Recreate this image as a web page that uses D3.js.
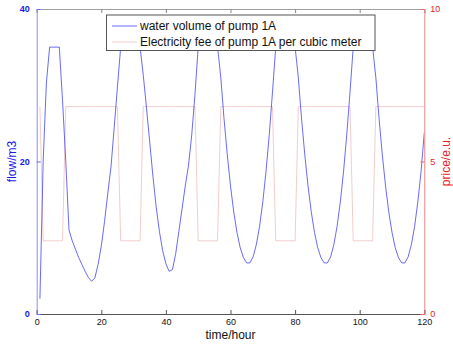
<!DOCTYPE html>
<html><head><meta charset="utf-8">
<script src="https://cdn.jsdelivr.net/npm/d3@7"></script>
<style>body{margin:0;background:#fff}svg{display:block;font-family:Arial,"Liberation Sans",Helvetica,sans-serif}</style>
</head><body><svg id="c" width="453" height="345"></svg>
<script>
// hours 1..120
const hours = d3.range(1, 121);
// water volume of pump 1A (m3), one value per hour
const flow = [
  2.0, 20.0, 30.3, 35, 35, 35, 35, 28.0, 20.0, 11.0,
  9.6, 8.5, 7.4, 6.5, 5.6, 4.8, 4.3, 4.7, 6.5, 8.9,
  12.1, 15.8, 19.3, 24.5, 29.8, 35, 35, 35, 35, 35,
  35, 35, 31.3, 27.0, 22.5, 18.0, 14.0, 10.8, 8.3, 6.6,
  5.6, 5.8, 7.8, 10.8, 13.8, 16.8, 19.5, 23.5, 28.8, 35,
  35, 35, 35, 35, 35, 35, 31.0, 25.6, 20.9, 16.8,
  13.4, 10.7, 8.7, 7.4, 6.7, 6.7, 7.5, 9.1, 11.5, 14.7,
  18.7, 23.5, 29.1, 35, 35, 35, 35, 35, 35, 35,
  31.0, 25.6, 20.9, 16.8, 13.4, 10.7, 8.7, 7.4, 6.7, 6.7,
  7.5, 9.1, 11.5, 14.7, 18.7, 23.5, 29.1, 35, 35, 35,
  35, 35, 35, 35, 31.0, 25.6, 20.9, 16.8, 13.4, 10.7,
  8.7, 7.4, 6.7, 6.7, 7.5, 9.1, 11.5, 14.7, 18.7, 23.8
];
// electricity fee of pump 1A per cubic meter (e.u.), one value per hour
const price = [
  6.8, 2.4, 2.4, 2.4, 2.4, 2.4, 2.4, 2.4, 6.8, 6.8,
  6.8, 6.8, 6.8, 6.8, 6.8, 6.8, 6.8, 6.8, 6.8, 6.8,
  6.8, 6.8, 6.8, 6.8, 6.8, 2.4, 2.4, 2.4, 2.4, 2.4,
  2.4, 2.4, 6.8, 6.8, 6.8, 6.8, 6.8, 6.8, 6.8, 6.8,
  6.8, 6.8, 6.8, 6.8, 6.8, 6.8, 6.8, 6.8, 6.8, 2.4,
  2.4, 2.4, 2.4, 2.4, 2.4, 2.4, 6.8, 6.8, 6.8, 6.8,
  6.8, 6.8, 6.8, 6.8, 6.8, 6.8, 6.8, 6.8, 6.8, 6.8,
  6.8, 6.8, 6.8, 2.4, 2.4, 2.4, 2.4, 2.4, 2.4, 2.4,
  6.8, 6.8, 6.8, 6.8, 6.8, 6.8, 6.8, 6.8, 6.8, 6.8,
  6.8, 6.8, 6.8, 6.8, 6.8, 6.8, 6.8, 2.4, 2.4, 2.4,
  2.4, 2.4, 2.4, 2.4, 6.8, 6.8, 6.8, 6.8, 6.8, 6.8,
  6.8, 6.8, 6.8, 6.8, 6.8, 6.8, 6.8, 6.8, 6.8, 6.8
];
const xTicks = [0, 20, 40, 60, 80, 100, 120];
const yLeftTicks = [0, 20, 40];
const yRightTicks = [0, 5, 10];
const legendLabels = ["water volume of pump 1A", "Electricity fee of pump 1A per cubic meter"];
const xLabel = "time/hour", yLeftLabel = "flow/m3", yRightLabel = "price/e.u.";

const svg = d3.select("#c");
const L = 36.7, R = 424.3, T = 9, B = 314;
const x = d3.scaleLinear().domain([0, 120]).range([L, R]);
const yL = d3.scaleLinear().domain([0, 40]).range([B, T]);
const yR = d3.scaleLinear().domain([0, 10]).range([B, T]);
const blue = "#2a2af0", red = "#e8383a", pink = "#f0c6c6";

svg.append("defs").append("clipPath").attr("id", "clip")
  .append("rect").attr("x", L).attr("y", T).attr("width", R - L).attr("height", B - T);

// price line
const lineP = d3.line().x((d, i) => x(hours[i])).y(d => yR(d));
svg.append("path").datum(price).attr("d", lineP).attr("fill", "none")
  .attr("stroke", pink).attr("stroke-width", 0.9).attr("clip-path", "url(#clip)");
// flow line
const lineF = d3.line().x((d, i) => x(hours[i])).y(d => yL(d));
svg.append("path").datum(flow).attr("d", lineF).attr("fill", "none")
  .attr("stroke", blue).attr("stroke-width", 0.7).attr("clip-path", "url(#clip)");

// bottom axis
const gx = svg.append("g").attr("transform", `translate(0,${B})`)
  .call(d3.axisBottom(x).tickValues(xTicks).tickSize(-4).tickPadding(5).tickFormat(d3.format("d")));
gx.select(".domain").attr("stroke", "#555").attr("stroke-width", 1);
gx.selectAll(".tick line").attr("stroke", "#555");
gx.selectAll("text").attr("font-size", 9).attr("fill", "#111").attr("font-family", "Arial, 'Liberation Sans', sans-serif");
// top axis (box)
const gt = svg.append("g").attr("transform", `translate(0,${T})`)
  .call(d3.axisTop(x).tickValues(xTicks).tickSize(-4).tickFormat(""));
gt.select(".domain").attr("stroke", "#888").attr("stroke-width", 0.8);
gt.selectAll(".tick line").attr("stroke", "#888");

// left axis
const gl = svg.append("g").attr("transform", `translate(${L},0)`)
  .call(d3.axisLeft(yL).tickValues(yLeftTicks).tickSize(-4).tickPadding(7));
gl.select(".domain").attr("stroke", "#8d8df0").attr("stroke-width", 1);
gl.selectAll(".tick line").attr("stroke", "#6b6bef");
gl.selectAll("text").attr("font-size", 9).attr("fill", "#1a1ae6").attr("font-weight", "bold")
  .attr("font-family", "Arial, 'Liberation Sans', sans-serif");

// right axis
const gr = svg.append("g").attr("transform", `translate(${R},0)`)
  .call(d3.axisRight(yR).tickValues(yRightTicks).tickSize(-4).tickPadding(6));
gr.select(".domain").attr("stroke", "#ea8282").attr("stroke-width", 1);
gr.selectAll(".tick line").attr("stroke", "#e86a6a");
gr.selectAll("text").attr("font-size", 9).attr("fill", "#e61e1e")
  .attr("font-family", "Arial, 'Liberation Sans', sans-serif");

// axis labels
svg.append("text").attr("x", (L + R) / 2).attr("y", 338.5).attr("text-anchor", "middle")
  .attr("font-size", 12).attr("fill", "#111").text(xLabel);
svg.append("text").attr("transform", `translate(16,${(T + B) / 2}) rotate(-90)`)
  .attr("text-anchor", "middle").attr("font-size", 12).attr("fill", "#1a1ae6").text(yLeftLabel);
svg.append("text").attr("transform", `translate(450,${(T + B) / 2}) rotate(-90)`)
  .attr("text-anchor", "middle").attr("font-size", 12).attr("fill", "#e61e1e").text(yRightLabel);

// legend
const lg = svg.append("g");
lg.append("rect").attr("x", 106.5).attr("y", 15).attr("width", 268.5).attr("height", 35.5)
  .attr("fill", "#fff").attr("stroke", "#555").attr("stroke-width", 1);
const colors = [blue, pink];
legendLabels.forEach((t, i) => {
  const yy = 26 + i * 16;
  lg.append("line").attr("x1", 112).attr("x2", 137).attr("y1", yy).attr("y2", yy)
    .attr("stroke", colors[i]).attr("stroke-width", i === 0 ? 0.7 : 0.9);
  lg.append("text").attr("x", 140).attr("y", yy + 4.3).attr("font-size", 12).attr("fill", "#111").text(t);
});
</script></body></html>
